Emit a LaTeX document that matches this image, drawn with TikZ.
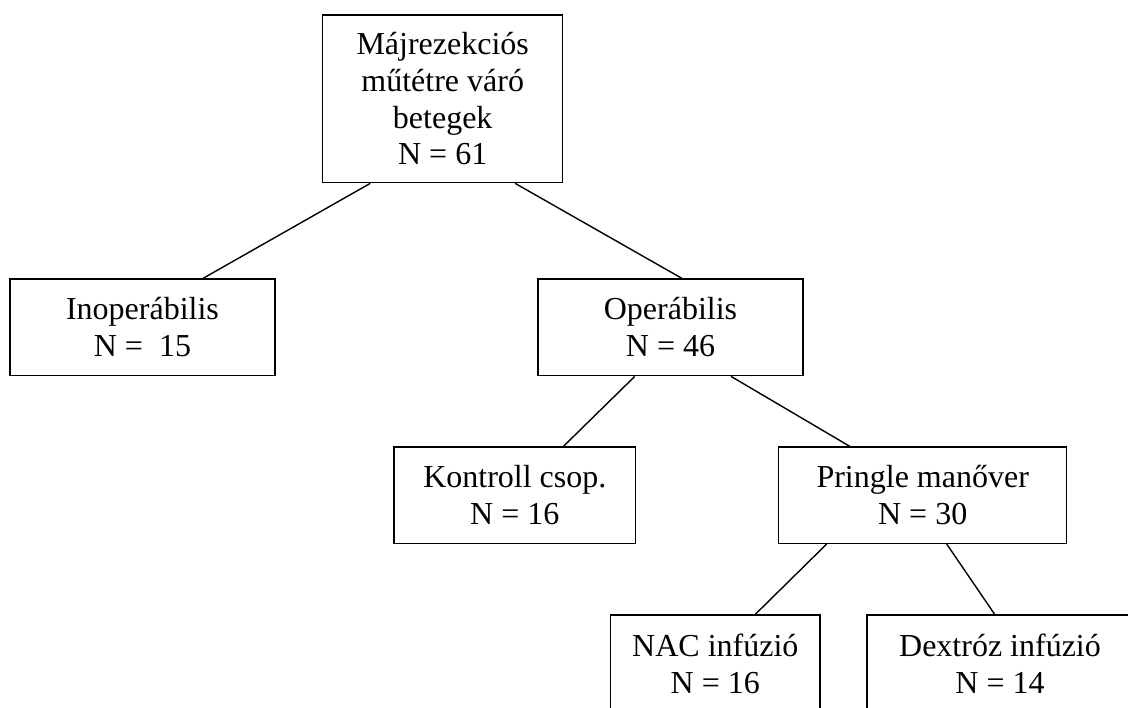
\documentclass[tikz,border=0pt]{standalone}
\usepackage{fontspec}
\setmainfont{Liberation Serif}
\usepackage{tikz}
\usetikzlibrary{calc,positioning}

\begin{document}
\begin{tikzpicture}[x=0.5pt,y=-0.5pt,
    box/.style={draw,line width=0.7pt,rectangle,align=center,inner sep=0pt,
      font=\fontsize{16}{18.4}\selectfont},
    link/.style={line width=0.7pt}]
  \useasboundingbox (0,0) rectangle (1128,707);
  \node[box,minimum width=120pt,minimum height=83.85pt] (root) at (442.7,98.8)
    {Májrezekciós\\műtétre váró\\betegek\\N = 61};
  \node[box,minimum width=132.5pt,minimum height=48.35pt] (inop) at (142.5,327.3)
    {Inoperábilis\\N = \ 15};
  \node[box,minimum width=132.5pt,minimum height=48.35pt] (oper) at (670.5,327.3)
    {Operábilis\\N = 46};
  \node[box,minimum width=120.85pt,minimum height=48.15pt] (kontroll) at (514.8,495.2)
    {Kontroll csop.\\N = 16};
  \node[box,minimum width=144pt,minimum height=48.15pt] (pringle) at (922.7,495.2)
    {Pringle manőver\\N = 30};
  \node[box,minimum width=104.65pt,minimum height=48.5pt] (nac) at (715.3,663.5)
    {NAC infúzió\\N = 16};
  \node[box,minimum width=133pt,minimum height=48.5pt] (dext) at (1000,663.5)
    {Dextróz infúzió\\N = 14};
  \draw[link] ($(root.south west)!.2!(root.south east)$) -- ($(inop.north west)!.728!(inop.north east)$);
  \draw[link] ($(root.south west)!.8!(root.south east)$) -- ($(oper.north west)!.542!(oper.north east)$);
  \draw[link] ($(oper.south west)!.366!(oper.south east)$) -- ($(kontroll.north west)!.7!(kontroll.north east)$);
  \draw[link] ($(oper.south west)!.727!(oper.south east)$) -- ($(pringle.north west)!.248!(pringle.north east)$);
  \draw[link] ($(pringle.south west)!.168!(pringle.south east)$) -- ($(nac.north west)!.69!(nac.north east)$);
  \draw[link] ($(pringle.south west)!.583!(pringle.south east)$) -- ($(dext.north west)!.48!(dext.north east)$);
\end{tikzpicture}
\end{document}
